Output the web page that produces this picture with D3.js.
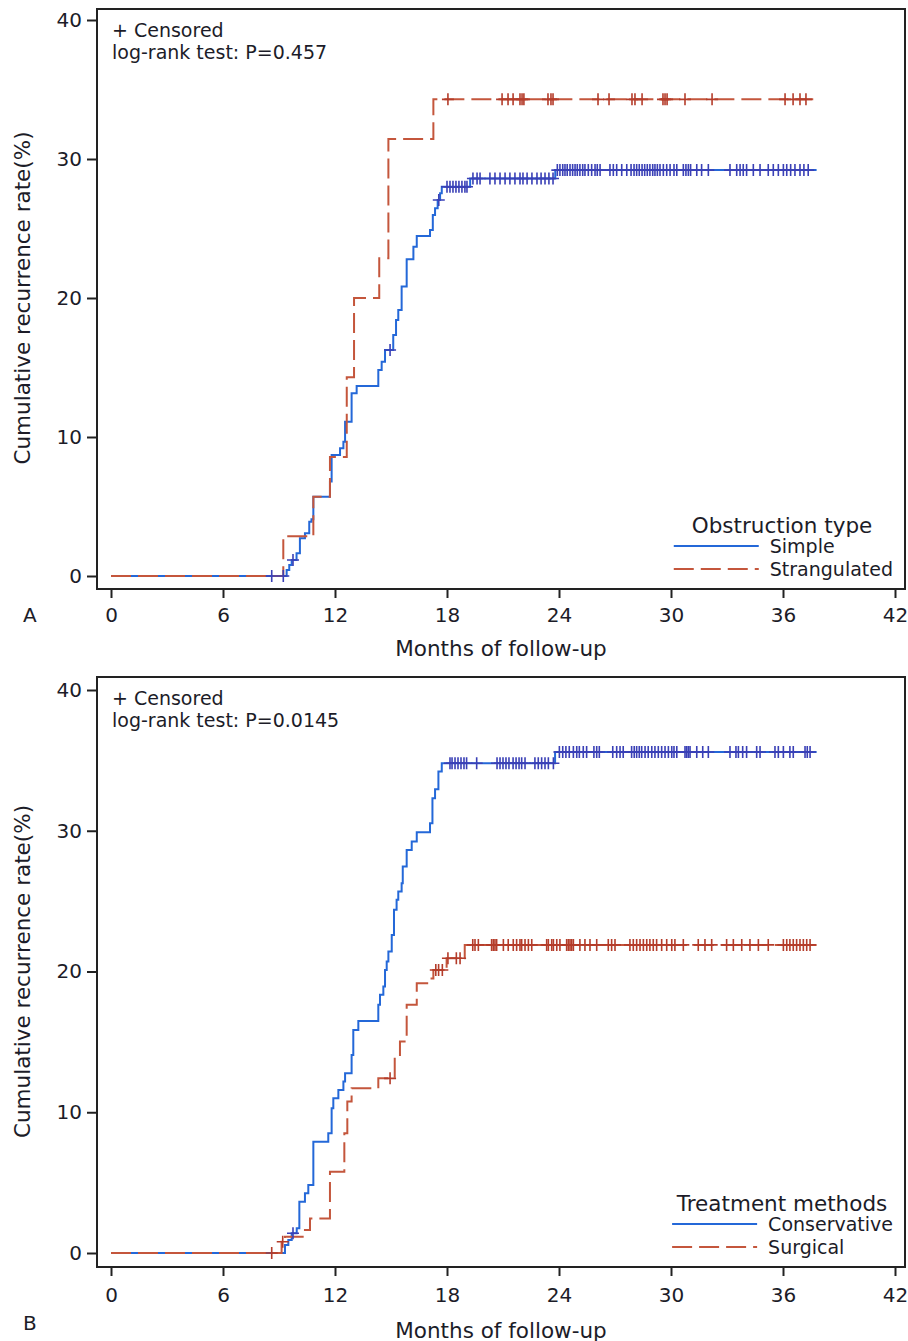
<!DOCTYPE html>
<html>
<head>
<meta charset="utf-8">
<script src="https://cdn.jsdelivr.net/npm/d3@7"></script>
<style>
  body { margin: 0; background: #fff; }
  text { font-family: "DejaVu Sans", Verdana, sans-serif; fill: #1c1c28; }
</style>
</head>
<body>
<svg id="chart" width="908" height="1341"></svg>
<script>
// tick values
const monthTicks = [0, 6, 12, 18, 24, 30, 36, 42];
const rateTicks = [0, 10, 20, 30, 40];

// panel A : obstruction type   [month, cumulative recurrence %]
const simpleSteps = [
  [9.41, 0.43], [9.55, 0.79], [9.68, 1.15], [9.94, 1.63], [10.12, 2.71], [10.39, 3.07],
  [10.62, 3.91], [10.74, 4.08], [10.84, 5.71], [11.73, 6.79], [11.82, 8.71], [12.27, 9.19],
  [12.45, 9.66], [12.54, 11.1], [12.89, 13.14], [13.16, 13.67], [14.32, 14.82], [14.5, 15.42],
  [14.68, 16.26], [15.12, 17.34], [15.27, 18.42], [15.39, 19.14], [15.57, 20.82], [15.84, 22.78],
  [16.2, 23.69], [16.38, 24.46], [17.09, 24.89], [17.24, 25.97], [17.36, 26.45], [17.5, 27.05],
  [17.63, 27.53], [17.72, 28.0], [19.24, 28.6], [23.8, 29.2]
];
const simpleCensor = [
  8.61, 9.23, 9.75, 14.95, 17.56, 18.0, 18.16, 18.32, 18.48, 18.64, 18.8, 18.96, 19.07,
  19.39, 19.61, 19.77, 20.3, 20.57, 20.84, 21.11, 21.37, 21.64, 21.91, 22.07, 22.29, 22.55,
  22.82, 23.04, 23.25, 23.46, 23.68, 23.91, 24.05, 24.2, 24.32, 24.44, 24.59, 24.73, 24.86,
  24.98, 25.12, 25.27, 25.39, 25.57, 25.75, 25.93, 26.05, 26.2, 26.73, 26.91, 27.09, 27.36,
  27.63, 27.86, 28.02, 28.16, 28.3, 28.45, 28.59, 28.73, 28.87, 29.02, 29.14, 29.27, 29.41,
  29.59, 29.77, 29.95, 30.16, 30.31, 30.66, 30.8, 30.93, 31.05, 31.38, 31.64, 32.0, 33.16,
  33.52, 33.7, 33.87, 34.05, 34.41, 34.77, 35.21, 35.48, 35.75, 36.02, 36.2, 36.41, 36.64,
  36.91, 37.12, 37.35
];
const simpleEnd = 37.8;

const strangSteps = [
  [9.23, 2.86], [10.84, 5.71], [11.73, 8.57], [12.63, 14.29], [13.02, 20.0],
  [14.37, 22.86], [14.86, 31.43], [17.27, 34.29]
];
const strangCensor = [
  18.05, 20.95, 21.27, 21.54, 21.91, 22.02, 22.12, 23.41, 23.57, 23.68, 26.09, 26.68,
  27.91, 28.07, 28.45, 29.57, 29.68, 29.79, 30.75, 32.2, 36.11, 36.54, 36.91, 37.23
];
const strangEnd = 37.62;

// panel B : treatment methods
const conservSteps = [
  [9.32, 0.57], [9.5, 0.92], [9.68, 1.4], [9.95, 1.75], [10.09, 3.65], [10.39, 4.24],
  [10.57, 4.83], [10.84, 7.91], [11.64, 8.5], [11.82, 10.28], [11.91, 10.99], [12.18, 11.58],
  [12.45, 12.18], [12.54, 12.77], [12.89, 14.07], [12.98, 15.85], [13.25, 16.49], [14.32, 17.63],
  [14.41, 18.34], [14.59, 18.93], [14.68, 20.11], [14.77, 20.71], [14.86, 21.42], [15.04, 22.6],
  [15.16, 24.38], [15.3, 25.09], [15.39, 25.68], [15.57, 26.27], [15.63, 27.46], [15.84, 28.64],
  [16.11, 29.23], [16.38, 29.9], [17.09, 30.54], [17.22, 32.31], [17.36, 32.95], [17.54, 34.21],
  [17.72, 34.8], [23.79, 35.6]
];
const conservCensor = [
  9.75, 18.16, 18.27, 18.43, 18.59, 18.75, 18.91, 19.05, 19.59, 20.68, 20.84, 21.0, 21.16,
  21.32, 21.54, 21.7, 21.86, 22.0, 22.18, 22.71, 22.89, 23.07, 23.25, 23.43, 23.7, 24.02,
  24.2, 24.37, 24.55, 24.77, 24.95, 25.09, 25.3, 25.48, 25.87, 26.02, 26.16, 26.88, 27.09,
  27.27, 27.44, 27.89, 28.03, 28.16, 28.3, 28.43, 28.61, 28.78, 28.97, 29.14, 29.32, 29.5,
  29.68, 29.86, 30.04, 30.16, 30.31, 30.75, 30.84, 30.93, 31.02, 31.38, 31.7, 32.0, 33.16,
  33.48, 33.61, 33.84, 34.05, 34.59, 34.77, 35.57, 35.75, 36.02, 36.37, 36.55, 37.18, 37.3,
  37.45
];
const conservEnd = 37.8;

const surgSteps = [
  [9.14, 0.8], [9.32, 1.16], [10.39, 1.63], [10.66, 2.46], [11.73, 5.78], [12.5, 8.5],
  [12.66, 10.76], [12.89, 11.7], [14.32, 12.41], [15.2, 14.07], [15.48, 15.02], [15.84, 17.63],
  [16.38, 19.17], [17.09, 19.5], [17.27, 20.11], [17.98, 20.94], [18.95, 21.89]
];
const surgCensor = [
  8.61, 9.2, 14.95, 17.4, 17.55, 17.75, 18.05, 18.5, 18.7, 19.38, 19.5, 19.68, 20.39, 20.48,
  20.57, 20.66, 21.02, 21.28, 21.55, 21.73, 21.91, 22.0, 22.18, 22.36, 22.54, 23.34, 23.43,
  23.61, 23.7, 23.88, 24.05, 24.41, 24.5, 24.59, 24.68, 24.77, 25.12, 25.39, 25.66, 26.02,
  26.64, 26.82, 27.0, 27.8, 27.98, 28.16, 28.34, 28.52, 28.7, 28.87, 29.05, 29.23, 29.5,
  29.77, 30.04, 30.21, 30.66, 31.46, 31.82, 32.18, 32.98, 33.34, 33.79, 34.23, 34.68, 35.21,
  36.02, 36.2, 36.37, 36.55, 36.73, 36.91, 37.09, 37.27, 37.45
];
const surgEnd = 37.8;

const BLUE = "#2468d8", BLUE_MARK = "#3a40b6";
const RED = "#c4563c", RED_MARK = "#b43c2a";

const panels = [
  {
    letter: "A", pValue: "log-rank test: P=0.457", legendTitle: "Obstruction type",
    top: 9, bottom: 589, y0: 576, y40: 20, tickPad: 10, letterY: 615, xTitleY: 648,
    series: [
      { name: "Simple", steps: simpleSteps, censor: simpleCensor, end: simpleEnd, color: BLUE, mark: BLUE_MARK, dash: null },
      { name: "Strangulated", steps: strangSteps, censor: strangCensor, end: strangEnd, color: RED, mark: RED_MARK, dash: "20,7" }
    ]
  },
  {
    letter: "B", pValue: "log-rank test: P=0.0145", legendTitle: "Treatment methods",
    top: 677, bottom: 1267, y0: 1253, y40: 690, tickPad: 12, letterY: 1323, xTitleY: 1330,
    series: [
      { name: "Conservative", steps: conservSteps, censor: conservCensor, end: conservEnd, color: BLUE, mark: BLUE_MARK, dash: null },
      { name: "Surgical", steps: surgSteps, censor: surgCensor, end: surgEnd, color: RED, mark: RED_MARK, dash: "20,7" }
    ]
  }
];

const svg = d3.select("#chart");

function levelAt(steps, t) {
  let v = 0;
  steps.forEach(([st, sv]) => { if (st <= t) v = sv; });
  return v;
}

panels.forEach(p => {
  const x = d3.scaleLinear().domain([0, 42]).range([111, 895]);
  const y = d3.scaleLinear().domain([0, 40]).range([p.y0, p.y40]);
  const g = svg.append("g");

  // axes
  const yAx = g.append("g")
    .attr("transform", "translate(97,0)")
    .call(d3.axisLeft(y).tickValues(rateTicks).tickSize(10).tickPadding(5));
  const xAx = g.append("g")
    .attr("transform", `translate(0,${p.bottom})`)
    .call(d3.axisBottom(x).tickValues(monthTicks).tickSize(9).tickPadding(p.tickPad));
  [yAx, xAx].forEach(a => {
    a.select(".domain").remove();
    a.selectAll("line").attr("stroke", "#222").attr("stroke-width", 2);
    a.selectAll("text").style("font-size", "20px");
  });

  // frame
  g.append("rect")
    .attr("x", 97).attr("y", p.top)
    .attr("width", 808).attr("height", p.bottom - p.top)
    .attr("fill", "none").attr("stroke", "#222").attr("stroke-width", 2);

  // curves
  const line = d3.line().x(d => x(d[0])).y(d => y(d[1])).curve(d3.curveStepAfter);
  p.series.forEach(s => {
    const pts = [[0, 0], ...s.steps, [s.end, s.steps[s.steps.length - 1][1]]];
    g.append("path")
      .attr("d", line(pts))
      .attr("fill", "none")
      .attr("stroke", s.color)
      .attr("stroke-width", 2)
      .attr("stroke-dasharray", s.dash);
  });
  p.series.forEach(s => {
    g.selectAll(null)
      .data(s.censor)
      .enter().append("path")
        .attr("transform", d => `translate(${x(d)},${y(levelAt(s.steps, d))})`)
        .attr("d", "M-6,0H6M0,-6V6")
        .attr("stroke", s.mark)
        .attr("stroke-width", 1.6);
  });

  // inset notes
  g.append("text").attr("x", 112).attr("y", p.top + 21)
    .attr("dominant-baseline", "central").style("font-size", "19px").text("+ Censored");
  g.append("text").attr("x", 112).attr("y", p.top + 43)
    .attr("dominant-baseline", "central").style("font-size", "19px").text(p.pValue);

  // legend
  g.append("text").attr("x", 782).attr("y", p.bottom - 64)
    .attr("text-anchor", "middle").attr("dominant-baseline", "central")
    .style("font-size", "21.5px").text(p.legendTitle);
  const labels = p.series.map((s, i) => g.append("text")
    .attr("y", p.bottom - 43 + i * 23)
    .attr("dominant-baseline", "central")
    .style("font-size", "19px").text(s.name));
  const maxW = d3.max(labels, t => t.node().getComputedTextLength());
  const lx = 893 - maxW;
  labels.forEach(t => t.attr("x", lx));
  p.series.forEach((s, i) => {
    g.append("line")
      .attr("x1", lx - 96).attr("x2", lx - 11)
      .attr("y1", p.bottom - 43 + i * 23).attr("y2", p.bottom - 43 + i * 23)
      .attr("stroke", s.color).attr("stroke-width", 2)
      .attr("stroke-dasharray", s.dash);
  });

  // titles
  g.append("text").attr("x", 501).attr("y", p.xTitleY)
    .attr("text-anchor", "middle").attr("dominant-baseline", "central")
    .style("font-size", "21.5px").text("Months of follow-up");
  g.append("text")
    .attr("transform", `translate(22,${(p.y0 + p.y40) / 2}) rotate(-90)`)
    .attr("text-anchor", "middle").attr("dominant-baseline", "central")
    .style("font-size", "21.5px").text("Cumulative recurrence rate(%)");
  g.append("text").attr("x", 23).attr("y", p.letterY)
    .attr("dominant-baseline", "central").style("font-size", "20px").text(p.letter);
});
</script>
</body>
</html>
